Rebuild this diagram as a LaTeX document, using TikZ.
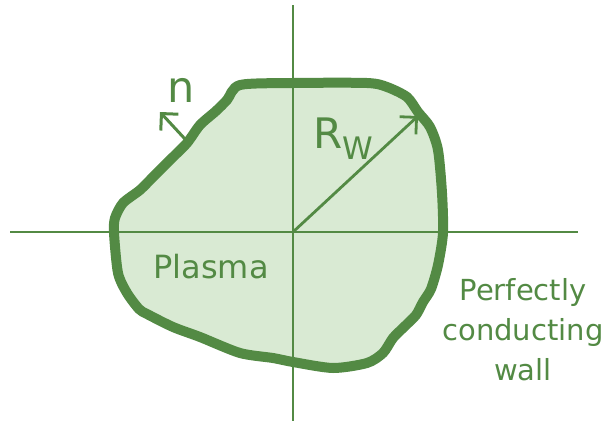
\documentclass[tikz,border=0pt]{standalone}
\usepackage{fontspec}
\setmainfont{DejaVu Sans}
\usetikzlibrary{arrows.meta}
\definecolor{wallgreen}{HTML}{538A44}
\definecolor{plasmafill}{HTML}{D9EAD3}

\begin{document}
\begin{tikzpicture}[x=1pt,y=-1pt]
    \useasboundingbox (0,0) rectangle (606,424);
    % Define points
    \coordinate (O) at (293,232);
    \coordinate (xL) at (10,232);
    \coordinate (xR) at (578,232);
    \coordinate (yT) at (293,5);
    \coordinate (yB) at (293,421);
    \coordinate (RwTip) at (418,116);
    \coordinate (nTail) at (185,139);
    \coordinate (nTip) at (160,112);
    % Plasma outline
    \def\wallpath{plot[smooth cycle, tension=0.45] coordinates {
      (240,85) (293,83) (367,83) (387,87) (407,97) (418,112) (430,127)
      (438,150) (442,193) (443,233) (438,265) (431,289) (423,302) (416,315)
      (404,327) (393,338) (383,353) (367,363) (333,368) (293,362) (273,358)
      (240,353) (200,337) (173,327) (147,314) (139,309) (127,293) (118,273)
      (114,233) (115,218) (123,203) (140,190) (153,177) (170,160) (187,143)
      (200,125) (216,111) (227,100)}}
    \fill[plasmafill] \wallpath;
    % Axes
    \draw[wallgreen, line width=2pt] (xL) -- (xR);
    \draw[wallgreen, line width=2pt] (yT) -- (yB);
    % Wall
    \draw[wallgreen, line width=10pt, line join=round] \wallpath;
    % Radius and normal
    \draw[-{Straight Barb[length=12pt,width=24pt]}, wallgreen, line width=2.8pt] (O) -- (RwTip);
    \draw[-{Straight Barb[length=12pt,width=24pt]}, wallgreen, line width=3pt] (nTail) -- (nTip);
    % Labels
    \node[wallgreen, inner sep=0, anchor=base] (n) at (181,102) {\fontsize{43}{43}\selectfont n};
    \node[wallgreen, inner sep=0, anchor=base west] (Rw) at (313,148)
      {\fontsize{42}{42}\selectfont R\raisebox{-11pt}{\fontsize{31}{31}\selectfont W}};
    \node[wallgreen, inner sep=0, anchor=base] (plasma) at (211,278) {\fontsize{32}{32}\selectfont Plasma};
    \node[wallgreen, inner sep=0, anchor=north, align=center, font=\fontsize{29}{40}\selectfont] (wall) at (523,278)
      {Perfectly\\conducting\\wall};
\end{tikzpicture}
\end{document}
